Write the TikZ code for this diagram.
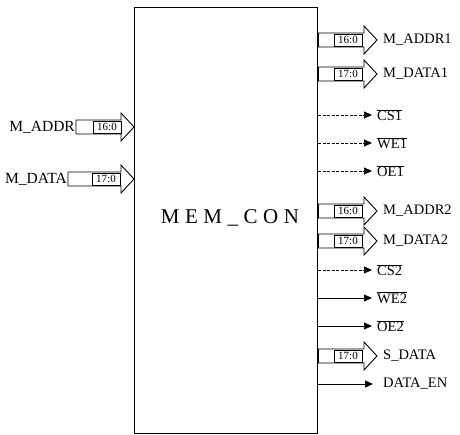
\documentclass[tikz,border=0pt]{standalone}
\usepackage{fontspec}
\setmainfont{Liberation Serif}
\usetikzlibrary{arrows.meta,calc}
\newcommand{\rbus}[4]{%
  \node[lab, anchor=west] (#3) at (381,#1) {#4};
  \draw[buss] (mem.east |- 0,#1-7) -- (364,#1-7) -- (364,#1-14) -- (377,#1) -- (364,#1+14) -- (364,#1+7) -- (mem.east |- 0,#1+7) -- cycle;
  \node[tag] (#3t) at (348,#1) {#2};
}
\newcommand{\rsig}[4]{%
  \node[slab, anchor=west] (#3) at (#2,#1) {#4};
  \draw[sig] (mem.east |- #3.west) -- (#3.west);
}
\newcommand{\rdsig}[4]{%
  \node[slab, anchor=west] (#3) at (#2,#1) {#4};
  \draw[dsig] (mem.east |- #3.west) -- (#3.west);
}
\newcommand{\ovl}[1]{\ensuremath{\overline{\mbox{#1}}}}
\begin{document}
\begin{tikzpicture}[x=1pt,y=-1pt,
  box/.style={draw, line width=1.3pt, inner sep=0pt},
  buss/.style={draw, line width=0.9pt, fill=white, line join=miter},
  tag/.style={draw, line width=0.5pt, font=\fontsize{11}{11}\selectfont, inner sep=1pt, minimum height=12pt, minimum width=28pt},
  lab/.style={font=\fontsize{14.5}{14.5}\selectfont, inner sep=2pt},
  llab/.style={font=\fontsize{15.5}{15.5}\selectfont, inner sep=1pt},
  slab/.style={lab, inner xsep=5pt},
  sig/.style={line width=0.7pt, -{Triangle[length=8pt,width=7pt]}},
  dsig/.style={sig, dash pattern=on 3pt off 1.5pt}]
\useasboundingbox (0,0) rectangle (460,435);
\node[box, minimum width=183pt, minimum height=426pt, anchor=north west] (mem) at (134,7) {};
\node[font=\fontsize{21}{21}\selectfont] (title) at (230,218) {M\kern5.5pt E\kern5.5pt M\kern5.5pt\_\kern5.5pt C\kern5.5pt O\kern5.5pt N};
% left inputs
\node[llab, anchor=east] (maddr) at (76,127) {M\_ADDR};
\draw[buss] ($(maddr.east)+(0,-7)$) -- (121,120) -- (121,113) -- (mem.west |- maddr.east) -- (121,141) -- (121,134) -- ($(maddr.east)+(0,7)$) -- cycle;
\node[tag] (maddrt) at (107,127) {16:0};
\node[llab, anchor=east] (mdata) at (68,179) {M\_DATA};
\draw[buss] ($(mdata.east)+(0,-7)$) -- (121,172) -- (121,165) -- (mem.west |- mdata.east) -- (121,193) -- (121,186) -- ($(mdata.east)+(0,7)$) -- cycle;
\node[tag] (mdatat) at (106,179) {17:0};
% right outputs
\rbus{40}{16:0}{maddra}{M\_ADDR1}
\rbus{74}{17:0}{mdataa}{M\_DATA1}
\rdsig{115}{372}{csa}{\ovl{CS1}}
\rdsig{143}{372}{wea}{\ovl{WE1}}
\rdsig{171}{372}{oea}{\ovl{OE1}}
\rbus{211}{16:0}{maddrb}{M\_ADDR2}
\rbus{241}{17:0}{mdatab}{M\_DATA2}
\rdsig{270}{372}{csb}{\ovl{CS2}}
\rsig{298}{372}{web}{\ovl{WE2}}
\rsig{326}{372}{oeb}{\ovl{OE2}}
\rbus{356}{17:0}{sdata}{S\_DATA}
\node[lab, inner xsep=10pt, anchor=west] (dataen) at (373,384) {DATA\_EN};
\draw[sig] (mem.east |- dataen.west) -- (dataen.west);
\end{tikzpicture}
\end{document}
